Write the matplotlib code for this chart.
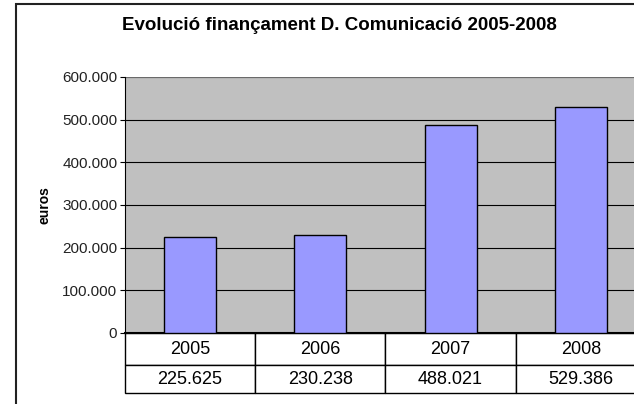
import matplotlib.pyplot as plt
import matplotlib.patches as patches
from matplotlib.ticker import FuncFormatter

plt.rcParams["font.family"] = ["Liberation Sans", "DejaVu Sans"]

years = ["2005", "2006", "2007", "2008"]
values = [225625, 230238, 488021, 529386]
value_labels = ["225.625", "230.238", "488.021", "529.386"]
yticks = [0, 100000, 200000, 300000, 400000, 500000, 600000]


def thousands(v, pos):
    return f"{int(v):,}".replace(",", ".")


fig = plt.figure(figsize=(6.34, 4.04), dpi=100)
fig.patch.set_facecolor("white")

# chart area border (cut off on the right and bottom)
fig.patches.append(patches.Rectangle((16 / 634, -0.1), 1.2, (404 - 4) / 404 + 0.1,
                                     transform=fig.transFigure, fill=False,
                                     edgecolor="#222222", linewidth=1.5))

ax = fig.add_axes([125 / 634, 71 / 404, 521 / 634, 256 / 404])
ax.set_facecolor("#C0C0C0")
x = range(len(years))
ax.bar(x, values, width=0.4, color="#9999FF", edgecolor="black", linewidth=1.0, zorder=3)
ax.set_xlim(-0.5, len(years) - 0.5)
ax.set_ylim(0, 600000)
ax.set_yticks(yticks)
ax.yaxis.set_major_formatter(FuncFormatter(thousands))
ax.tick_params(axis="y", labelsize=11, length=3.5, width=0.8, pad=2, labelcolor="#222222")
ax.set_xticks([])
ax.grid(axis="y", color="black", linewidth=0.8, zorder=1)
for s in ["top", "right"]:
    ax.spines[s].set_visible(False)
ax.spines["left"].set_color("black")
ax.spines["bottom"].set_color("black")
ax.spines["bottom"].set_linewidth(1.5)
ax.axhline(600000, color="#808080", linewidth=1.2, zorder=2)
ax.set_ylabel("euros", fontsize=10, fontweight="bold", labelpad=8)

# data table under the axis
tbl = ax.table(cellText=[years, value_labels], cellLoc="center",
               bbox=[0, -60 / 256, 1, 60 / 256])
tbl.auto_set_font_size(False)
tbl.set_fontsize(13)
for (r, c), cell in tbl.get_celld().items():
    cell.set_linewidth(1.0)
    cell.set_edgecolor("black")
    cell.set_height(32 / 256 if r == 0 else 28 / 256)

fig.text(339 / 634, 1 - 25 / 404, "Evolució finançament D. Comunicació 2005-2008",
         ha="center", va="center", fontsize=13.5, fontweight="bold")

fig.savefig("out.png", dpi=100)
